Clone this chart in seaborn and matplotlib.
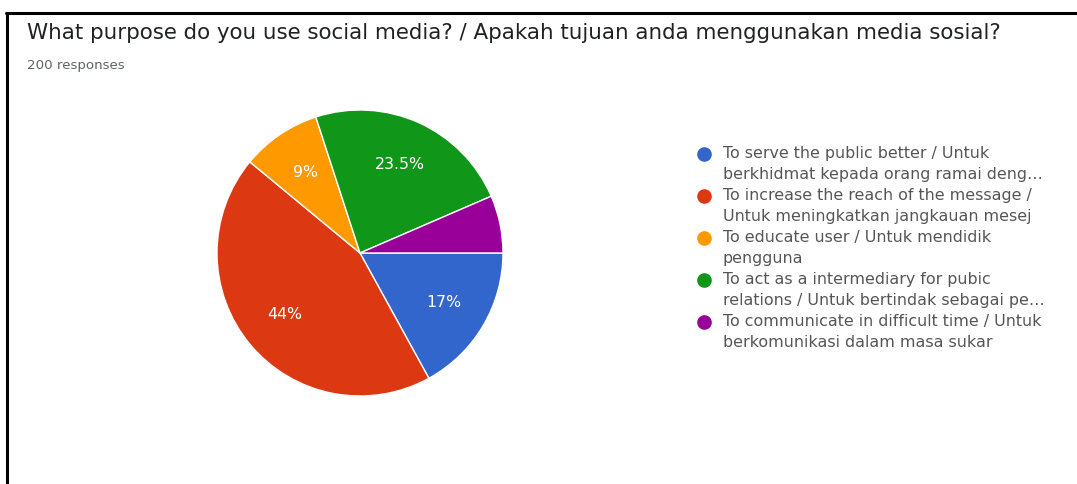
import matplotlib
matplotlib.use("Agg")
import matplotlib.pyplot as plt
from matplotlib.lines import Line2D
import seaborn as sns

# Survey answers and their shares (percent of 200 responses)
answers = [
    "To serve the public better / Untuk\nberkhidmat kepada orang ramai deng\u2026",
    "To increase the reach of the message /\nUntuk meningkatkan jangkauan mesej",
    "To educate user / Untuk mendidik\npengguna",
    "To act as a intermediary for pubic\nrelations / Untuk bertindak sebagai pe\u2026",
    "To communicate in difficult time / Untuk\nberkomunikasi dalam masa sukar",
]
shares = [17, 44, 9, 23.5, 6.5]
colors = ["#3366cc", "#dc3912", "#ff9900", "#109618", "#990099"]

title = "What purpose do you use social media? / Apakah tujuan anda menggunakan media sosial?"
subtitle = "200 responses"

sns.set_theme(style="white")
plt.rcParams["font.family"] = ["DejaVu Sans"]
palette = sns.color_palette(colors)

W, H = 1077, 484
fig = plt.figure(figsize=(W / 100, H / 100), dpi=100)
fig.patch.set_facecolor("white")

# Frame: top and left rules
fig.add_artist(Line2D([6.5 / W, 6.5 / W], [0, 1 - 12.5 / H], transform=fig.transFigure,
                      color="black", lw=2.2))
fig.add_artist(Line2D([5.5 / W, 1], [1 - 12.5 / H, 1 - 12.5 / H], transform=fig.transFigure,
                      color="black", lw=2.2))

fig.text(27 / W, 1 - 33 / H, title, fontsize=15.4, color="#202124", va="center", ha="left")
fig.text(27 / W, 1 - 65 / H, subtitle, fontsize=9.6, color="#5f6368", va="center", ha="left")

# Pie
cx, cy, r = 360, 253, 143
ax = fig.add_axes([(cx - r) / W, (H - cy - r) / H, 2 * r / W, 2 * r / H])


def fmt(p):
    return f"{p:g}%" if p >= 8 else ""


wedges, texts, autotexts = ax.pie(
    shares, colors=palette, startangle=0, counterclock=False,
    autopct=lambda p: fmt(round(p, 1)), pctdistance=0.68,
    wedgeprops=dict(edgecolor="white", linewidth=1.0),
    textprops=dict(color="white", fontsize=11.3),
)
ax.set_aspect("equal")
ax.set_xlim(-1, 1)
ax.set_ylim(-1, 1)
ax.axis("off")

# Legend entries
x_dot, x_txt = 704, 723
y0, step = 164, 42
for i, (lab, col) in enumerate(zip(answers, palette)):
    y = y0 + i * step
    fig.add_artist(Line2D([x_dot / W], [1 - (y - 10) / H], transform=fig.transFigure,
                          marker="o", markersize=9.5, color=col, linestyle="none"))
    fig.text(x_txt / W, 1 - y / H, lab, fontsize=11.4, color="#555555",
             va="center", ha="left", linespacing=1.42)

fig.savefig("out.png", dpi=100, facecolor="white")
